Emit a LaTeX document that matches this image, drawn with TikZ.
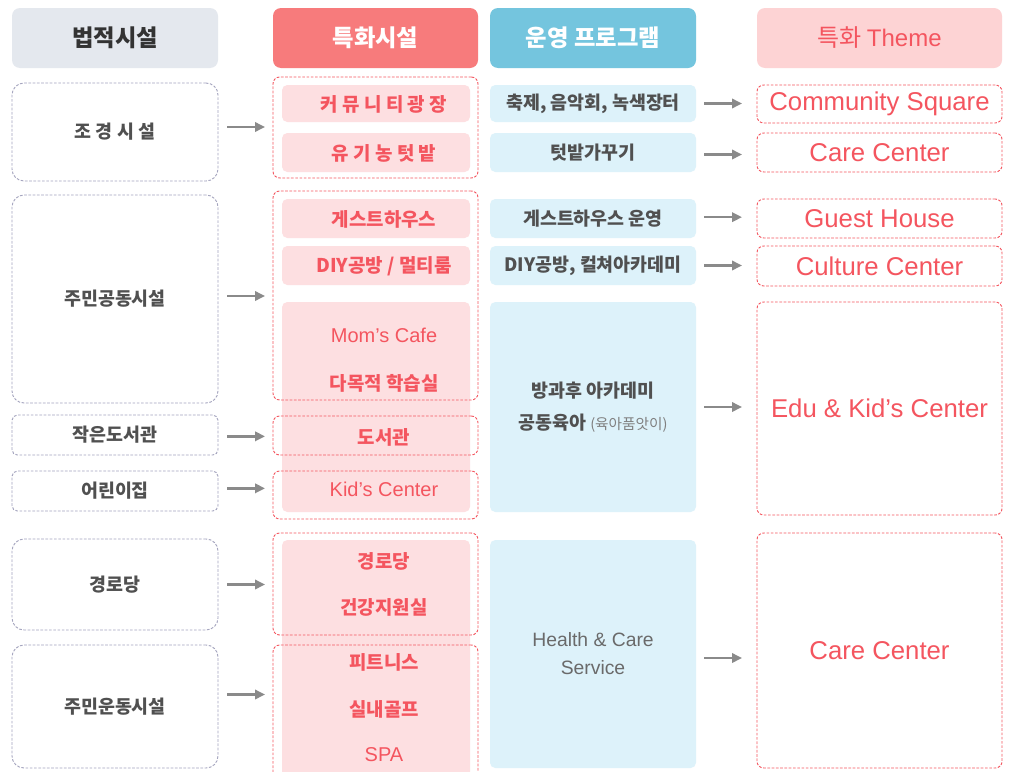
\documentclass[tikz,border=0pt]{standalone}
\usepackage{fontspec}
\setmainfont{Noto Sans CJK KR}
\newfontfamily\en{Liberation Sans}
\usetikzlibrary{arrows.meta}
\definecolor{hgray}{HTML}{E4E8EE}
\definecolor{hred}{HTML}{F77B7C}
\definecolor{hblue}{HTML}{74C5DE}
\definecolor{hpink}{HTML}{FDD3D4}
\definecolor{redc}{HTML}{F4555F}
\definecolor{pinkc}{HTML}{FDDFE1}
\definecolor{bluec}{HTML}{DDF2FA}
\definecolor{legalc}{HTML}{A4A4BE}
\definecolor{txt}{HTML}{505050}
\definecolor{arrc}{HTML}{8A8A8A}
\begin{document}
\begin{tikzpicture}[x=0.75pt,y=-0.75pt,
  bx/.style n args={4}{rectangle,inner sep=0pt,outer sep=0pt,anchor=center,
    minimum width={(#3-#1)*0.75pt},minimum height={(#4-#2)*0.75pt},
    at={({(#1+#3)/2},{(#2+#4)/2})}},
  hdr/.style={rounded corners=6pt,font=\fontsize{17.5}{20}\selectfont\bfseries},
  legal/.style={draw=legalc,dash pattern=on 2pt off 1.2pt,line width=0.7pt,rounded corners=9pt,text=txt,font=\fontsize{13.8}{16}\selectfont\bfseries},
  grp/.style={draw=redc,dash pattern=on 2pt off 1.2pt,line width=0.7pt,rounded corners=5pt},
  pinkb/.style={fill=pinkc,rounded corners=4pt},
  redtxt/.style={text=redc,font=\fontsize{14.2}{16}\selectfont\bfseries,anchor=center},
  redlat/.style={text=redc,font=\en\fontsize{15}{18}\selectfont,anchor=center},
  blueb/.style={fill=bluec,rounded corners=4pt,text=txt,font=\fontsize{13.8}{16}\selectfont\bfseries,align=center},
  theme/.style={draw=redc,dash pattern=on 2pt off 1.2pt,line width=0.7pt,rounded corners=5pt,text=redc,font=\en\fontsize{19.3}{22}\selectfont},
  arr/.style={draw=arrc,line width=1.8pt,-{Triangle[length=7.5pt,width=7pt]}}
]
\useasboundingbox (0,0) rectangle (1012,771);
\fill[white] (0,0) rectangle (1012,771);

% headers
\node[bx={12}{8}{218}{68},hdr,fill=hgray,text=black!80] (H1) {법적시설};
\node[bx={273}{8}{478}{68},hdr,fill=hred,text=white] (H2) {특화시설};
\node[bx={490}{8}{696}{68},hdr,fill=hblue,text=white] (H3) {운영 프로그램};
\node[bx={757}{8}{1002}{68},hdr,fill=hpink,text=redc,font=\fontsize{18}{20}\selectfont] (H4) {특화 {\en Theme}};

% left column
\node[bx={12}{83}{218}{181},legal] (L1) {조 경 시 설};
\node[bx={12}{195}{218}{403},legal] (L2) {주민공동시설};
\node[bx={12}{415}{218}{455},legal,rounded corners=4pt] (L3) {작은도서관};
\node[bx={12}{471}{218}{511},legal,rounded corners=4pt] (L4) {어린이집};
\node[bx={12}{539}{218}{630},legal] (L5) {경로당};
\node[bx={12}{645}{218}{768},legal] (L6) {주민운동시설};

% column 2 fills
\node[bx={282}{85}{470}{122},pinkb] (P1) {};
\node[bx={282}{133}{470}{172},pinkb] (P2) {};
\node[bx={282}{199}{470}{238},pinkb] (P3) {};
\node[bx={282}{246}{470}{285},pinkb] (P4) {};
\node[bx={282}{302}{470}{512},pinkb] (P5) {};
\node[bx={282}{540}{470}{780},pinkb] (P6) {};
% column 2 outlines
\node[bx={273}{77}{478}{178},grp] (S1) {};
\node[bx={273}{191}{478}{400},grp] (S2) {};
\node[bx={273}{416}{478}{455},grp] (S3) {};
\node[bx={273}{471}{478}{519},grp] (S4) {};
\node[bx={273}{533}{478}{635},grp] (S5) {};
\node[bx={273}{645}{478}{790},grp] (S6) {};
% column 2 texts
\node[redtxt] (a1) at (384,104) {커 뮤 니 티 광 장};
\node[redtxt] (a2) at (384,153) {유 기 농 텃 밭};
\node[redtxt] (a3) at (384,219) {게스트하우스};
\node[redtxt] (a4) at (384,266) {DIY공방 / 멀티룸};
\node[redlat] (t1) at (384,335) {Mom’s Cafe};
\node[redtxt] (t2) at (384,383) {다목적 학습실};
\node[redtxt] (a5) at (384,437) {도서관};
\node[redlat] (a6) at (384,489) {Kid’s Center};
\node[redtxt] (t3) at (384,561) {경로당};
\node[redtxt] (t4) at (384,607) {건강지원실};
\node[redtxt] (t5) at (384,662) {피트니스};
\node[redtxt] (t6) at (384,709) {실내골프};
\node[redlat] (t7) at (384,755) {SPA};

% column 3
\node[bx={490}{85}{696}{122},blueb] (B1) {축제, 음악회, 녹색장터};
\node[bx={490}{133}{696}{172},blueb] (B2) {텃밭가꾸기};
\node[bx={490}{199}{696}{238},blueb] (B3) {게스트하우스 운영};
\node[bx={490}{246}{696}{285},blueb] (B4) {DIY공방, 컬쳐아카데미};
\node[bx={490}{302}{696}{512},blueb,font=\fontsize{13.8}{23.5}\selectfont\bfseries] (B5) {방과후 아카데미\\공동육아 {\mdseries\fontsize{11}{12}\selectfont\color{gray}(육아품앗이)}};
\node[bx={490}{540}{696}{768},blueb,font=\en\fontsize{14.5}{21}\selectfont,text=txt!85] (B6) {Health \& Care\\Service};

% column 4
\node[bx={757}{85}{1002}{123},theme] (T1) {Community Square};
\node[bx={757}{133}{1002}{172},theme] (T2) {Care Center};
\node[bx={757}{199}{1002}{238},theme] (T3) {Guest House};
\node[bx={757}{246}{1002}{286},theme] (T4) {Culture Center};
\node[bx={757}{302}{1002}{515},theme] (T5) {Edu \& Kid’s Center};
\node[bx={757}{533}{1002}{768},theme] (T6) {Care Center};

% arrows left -> column 2
\draw[arr,shorten <=6.75pt,shorten >=6pt] ([yshift=3.75pt]L1.east) -- ([yshift=3.75pt]L1.east -| S1.west);
\draw[arr,shorten <=6.75pt,shorten >=6pt] ([yshift=2.25pt]L2.east) -- ([yshift=2.25pt]L2.east -| S2.west);
\draw[arr,shorten <=6.75pt,shorten >=6pt] ([yshift=-1pt]L3.east) -- ([yshift=-1pt]L3.east -| S3.west);
\draw[arr,shorten <=6.75pt,shorten >=6pt] ([yshift=2pt]L4.east) -- ([yshift=2pt]L4.east -| S4.west);
\draw[arr,shorten <=6.75pt,shorten >=6pt] (L5.east) -- (L5.east -| S5.west);
\draw[arr,shorten <=6.75pt,shorten >=6pt] ([yshift=9pt]L6.east) -- ([yshift=9pt]L6.east -| S6.west);

% arrows column 3 -> column 4
\draw[arr,shorten <=6pt,shorten >=11.25pt] (B1.east) -- (B1.east -| T1.west);
\draw[arr,shorten <=6pt,shorten >=11.25pt] ([yshift=-1.5pt]B2.east) -- ([yshift=-1.5pt]B2.east -| T2.west);
\draw[arr,shorten <=6pt,shorten >=11.25pt] ([yshift=1pt]B3.east) -- ([yshift=1pt]B3.east -| T3.west);
\draw[arr,shorten <=6pt,shorten >=11.25pt] (B4.east) -- (B4.east -| T4.west);
\draw[arr,shorten <=6pt,shorten >=11.25pt] (B5.east) -- (B5.east -| T5.west);
\draw[arr,shorten <=6pt,shorten >=11.25pt] ([yshift=-3pt]B6.east) -- ([yshift=-3pt]B6.east -| T6.west);
\end{tikzpicture}
\end{document}
